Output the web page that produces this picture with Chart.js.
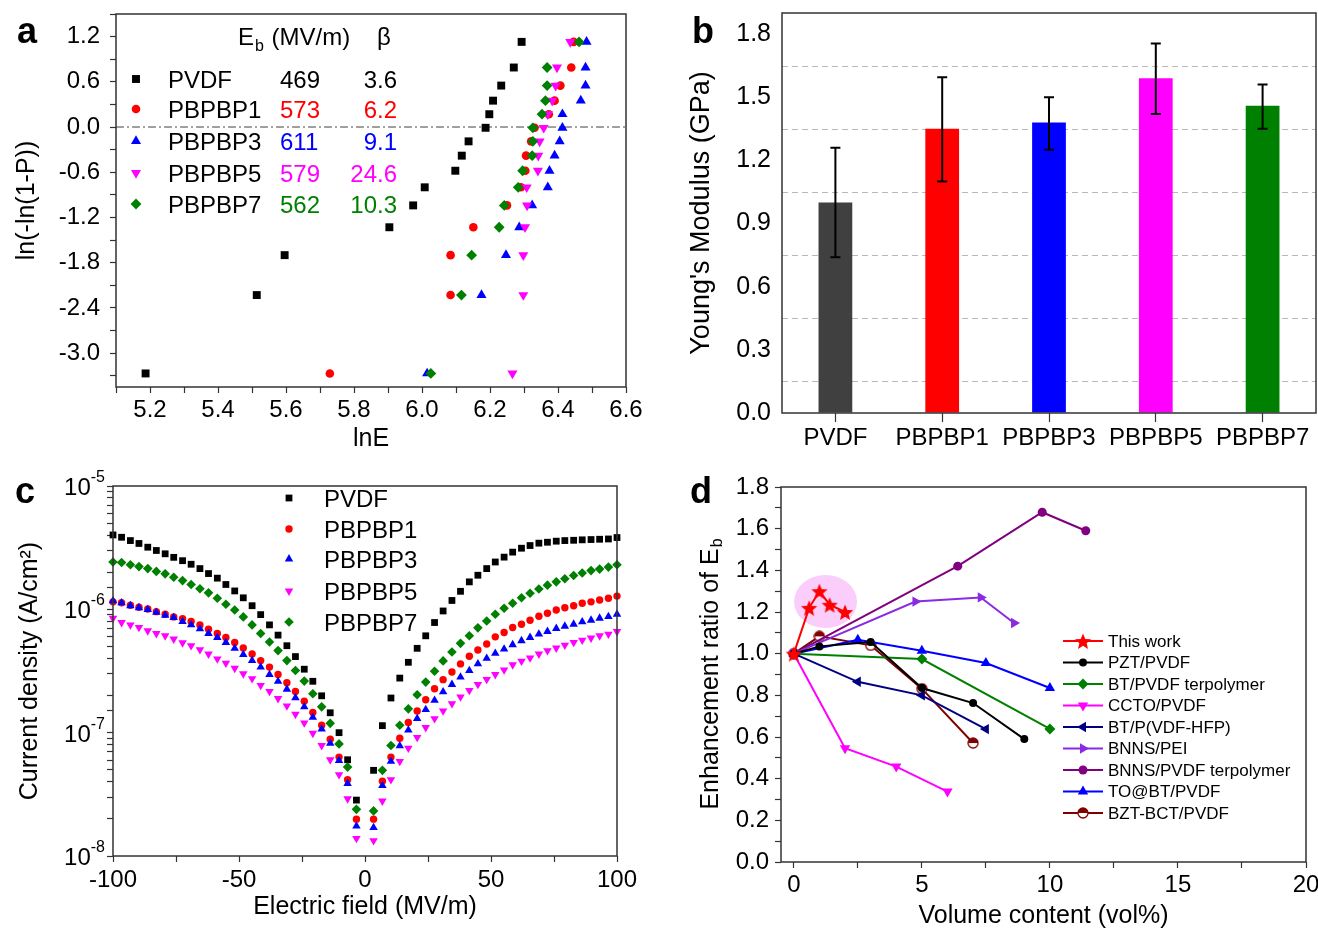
<!DOCTYPE html>
<html>
<head>
<meta charset="utf-8">
<title>PBPBP films: Weibull, modulus, leakage, Eb enhancement</title>
<script src="https://cdn.jsdelivr.net/npm/chart.js@4.4.1/dist/chart.umd.min.js"></script>
<style>
  html, body { margin: 0; padding: 0; background: #fff; }
  #page { position: relative; width: 1318px; height: 929px; overflow: hidden; }
  #page canvas { position: absolute; }
</style>
</head>
<body>
<div id="page">
  <canvas id="weibullChart" width="660" height="465" style="left:0;top:0"></canvas>
  <canvas id="modulusChart" width="658" height="465" style="left:660px;top:0"></canvas>
  <canvas id="leakageChart" width="660" height="464" style="left:0;top:465px"></canvas>
  <canvas id="ratioChart" width="658" height="464" style="left:660px;top:465px"></canvas>
</div>
<script>
// ---------------- data ----------------

// (a) Weibull plot, ln(-ln(1-P)) levels shared by all samples
const weibullLevels = [-3.27, -2.23, -1.70, -1.33, -1.04, -0.80, -0.58, -0.38, -0.19, -0.01, 0.17, 0.35, 0.55, 0.79, 1.13];
const lnE_PVDF   = [5.187, 5.514, 5.596, 5.904, 5.974, 6.008, 6.098, 6.117, 6.137, 6.187, 6.198, 6.209, 6.233, 6.270, 6.293];
const lnE_PBPBP1 = [5.729, 6.084, 6.084, 6.151, 6.250, 6.291, 6.304, 6.306, 6.321, 6.331, 6.373, 6.390, 6.407, 6.439, 6.446];
const lnE_PBPBP3 = [6.015, 6.175, 6.247, 6.286, 6.324, 6.370, 6.375, 6.390, 6.405, 6.413, 6.413, 6.467, 6.481, 6.481, 6.484];
const lnE_PBPBP5 = [6.266, 6.298, 6.298, 6.303, 6.309, 6.308, 6.341, 6.342, 6.346, 6.358, 6.370, 6.383, 6.393, 6.397, 6.436];
const lnE_PBPBP7 = [6.026, 6.116, 6.146, 6.227, 6.242, 6.283, 6.296, 6.324, 6.326, 6.326, 6.353, 6.363, 6.368, 6.368, 6.462];

const sampleNames = ['PVDF', 'PBPBP1', 'PBPBP3', 'PBPBP5', 'PBPBP7'];
const breakdownEb = ['469', '573', '611', '579', '562'];
const weibullBeta = ['3.6', '6.2', '9.1', '24.6', '10.3'];

// (b) Young's modulus (GPa) with error range
const modulusMean = [1.00, 1.35, 1.38, 1.59, 1.46];
const modulusLow  = [0.74, 1.10, 1.25, 1.42, 1.35];
const modulusHigh = [1.26, 1.595, 1.50, 1.755, 1.56];

// (c) leakage current density (A/cm2) vs electric field (MV/m)
const fieldMVm = [-100.0, -96.6, -93.1, -89.7, -86.2, -82.8, -79.3, -75.9, -72.4, -69.0, -65.5, -62.1, -58.6, -55.2, -51.7,
  -48.3, -44.8, -41.4, -37.9, -34.5, -31.0, -27.6, -24.1, -20.7, -17.2, -13.8, -10.3, -6.9, -3.4,
  3.4, 6.9, 10.3, 13.8, 17.2, 20.7, 24.1, 27.6, 31.0, 34.5, 37.9, 41.4, 44.8, 48.3, 51.7,
  55.2, 58.6, 62.1, 65.5, 69.0, 72.4, 75.9, 79.3, 82.8, 86.2, 89.7, 93.1, 96.6, 100.0];
const leak_PVDF = [4.01e-6, 3.84e-6, 3.61e-6, 3.42e-6, 3.19e-6, 3.00e-6, 2.82e-6, 2.64e-6, 2.48e-6, 2.32e-6, 2.14e-6, 1.95e-6, 1.79e-6, 1.59e-6, 1.41e-6,
  1.24e-6, 1.07e-6, 9.06e-7, 7.48e-7, 6.18e-7, 5.07e-7, 4.14e-7, 3.27e-7, 2.61e-7, 1.99e-7, 1.45e-7, 1.00e-7, 6.03e-8, 2.84e-8,
  4.95e-8, 1.14e-7, 1.91e-7, 2.77e-7, 3.72e-7, 4.83e-7, 6.10e-7, 7.82e-7, 9.70e-7, 1.18e-6, 1.40e-6, 1.67e-6, 1.89e-6, 2.14e-6, 2.42e-6,
  2.65e-6, 2.91e-6, 3.13e-6, 3.29e-6, 3.44e-6, 3.50e-6, 3.57e-6, 3.61e-6, 3.63e-6, 3.66e-6, 3.68e-6, 3.70e-6, 3.72e-6, 3.82e-6];
const leak_PBPBP1 = [1.15e-6, 1.13e-6, 1.08e-6, 1.04e-6, 1.006e-6, 9.58e-7, 9.12e-7, 8.68e-7, 8.41e-7, 7.96e-7, 7.48e-7, 6.90e-7, 6.37e-7, 5.91e-7, 5.39e-7,
  4.86e-7, 4.34e-7, 3.84e-7, 3.40e-7, 2.96e-7, 2.54e-7, 2.16e-7, 1.80e-7, 1.46e-7, 1.15e-7, 8.84e-8, 6.34e-8, 4.16e-8, 1.99e-8,
  1.99e-8, 4.04e-8, 6.34e-8, 9.0e-8, 1.21e-7, 1.50e-7, 1.85e-7, 2.27e-7, 2.69e-7, 3.10e-7, 3.61e-7, 4.16e-7, 4.68e-7, 5.23e-7, 5.98e-7,
  6.49e-7, 7.13e-7, 7.57e-7, 8.16e-7, 8.79e-7, 9.29e-7, 9.88e-7, 1.03e-6, 1.07e-6, 1.12e-6, 1.15e-6, 1.19e-6, 1.23e-6, 1.28e-6];
const leak_PBPBP3 = [1.17e-6, 1.13e-6, 1.07e-6, 1.03e-6, 9.94e-7, 9.46e-7, 8.95e-7, 8.57e-7, 7.96e-7, 7.48e-7, 6.95e-7, 6.37e-7, 5.91e-7, 5.39e-7, 4.83e-7,
  4.30e-7, 3.84e-7, 3.40e-7, 2.96e-7, 2.61e-7, 2.25e-7, 1.92e-7, 1.62e-7, 1.33e-7, 1.07e-7, 8.20e-8, 5.95e-8, 3.87e-8, 1.75e-8,
  1.70e-8, 3.72e-8, 5.85e-8, 7.81e-8, 1.05e-7, 1.30e-7, 1.54e-7, 1.83e-7, 2.14e-7, 2.46e-7, 2.82e-7, 3.19e-7, 3.61e-7, 4.01e-7, 4.40e-7,
  4.76e-7, 5.16e-7, 5.56e-7, 5.91e-7, 6.29e-7, 6.61e-7, 7.00e-7, 7.30e-7, 7.57e-7, 7.91e-7, 8.16e-7, 8.47e-7, 8.73e-7, 9.12e-7];
const leak_PBPBP5 = [8.47e-7, 7.82e-7, 7.48e-7, 7.13e-7, 6.70e-7, 6.37e-7, 6.10e-7, 5.74e-7, 5.36e-7, 5.07e-7, 4.71e-7, 4.34e-7, 3.96e-7, 3.66e-7, 3.33e-7,
  3.00e-7, 2.74e-7, 2.42e-7, 2.16e-7, 1.89e-7, 1.65e-7, 1.41e-7, 1.20e-7, 9.88e-8, 7.86e-8, 6.03e-8, 4.57e-8, 2.91e-8, 1.39e-8,
  1.33e-8, 2.79e-8, 4.16e-8, 5.85e-8, 7.48e-8, 9.16e-8, 1.10e-7, 1.30e-7, 1.50e-7, 1.72e-7, 1.95e-7, 2.20e-7, 2.46e-7, 2.70e-7, 2.96e-7,
  3.23e-7, 3.55e-7, 3.80e-7, 4.04e-7, 4.34e-7, 4.63e-7, 4.86e-7, 5.13e-7, 5.39e-7, 5.63e-7, 5.85e-7, 6.10e-7, 6.29e-7, 6.61e-7];
const leak_PBPBP7 = [2.42e-6, 2.40e-6, 2.30e-6, 2.22e-6, 2.14e-6, 2.03e-6, 1.94e-6, 1.82e-6, 1.71e-6, 1.59e-6, 1.47e-6, 1.36e-6, 1.23e-6, 1.10e-6, 9.88e-7,
  8.68e-7, 7.48e-7, 6.37e-7, 5.43e-7, 4.63e-7, 3.84e-7, 3.19e-7, 2.62e-7, 2.07e-7, 1.62e-7, 1.19e-7, 8.11e-8, 5.26e-8, 2.39e-8,
  2.32e-8, 4.95e-8, 7.86e-8, 1.15e-7, 1.56e-7, 2.03e-7, 2.57e-7, 3.15e-7, 3.82e-7, 4.51e-7, 5.30e-7, 6.10e-7, 7.08e-7, 8.05e-7, 9.12e-7,
  1.02e-6, 1.12e-6, 1.24e-6, 1.35e-6, 1.46e-6, 1.57e-6, 1.67e-6, 1.77e-6, 1.88e-6, 1.97e-6, 2.06e-6, 2.12e-6, 2.20e-6, 2.30e-6];
const decadeExponents = [-8, -7, -6, -5];

// (d) enhancement ratio of Eb vs filler volume content (vol%)
const compositeNames = ['This work', 'PZT/PVDF', 'BT/PVDF terpolymer', 'CCTO/PVDF', 'BT/P(VDF-HFP)',
  'BNNS/PEI', 'BNNS/PVDF terpolymer', 'TO@BT/PVDF', 'BZT-BCT/PVDF'];
const thisWorkX = [0, 0.6, 1.0, 1.4, 2.0];    const thisWorkY = [1.0, 1.22, 1.30, 1.235, 1.20];
const pztX = [0, 1, 3, 5, 7, 9];              const pztY = [1.0, 1.035, 1.056, 0.835, 0.763, 0.59];
const btTerX = [0, 5, 10];                    const btTerY = [1.0, 0.974, 0.639];
const cctoX = [0, 2, 4, 6];                   const cctoY = [1.0, 0.546, 0.458, 0.338];
const btHfpX = [0, 2.5, 5, 7.5];              const btHfpY = [1.0, 0.865, 0.80, 0.638];
const bnnsPeiX = [0, 4.75, 7.3, 8.6];         const bnnsPeiY = [1.0, 1.25, 1.27, 1.147];
const bnnsTerX = [0, 6.4, 9.7, 11.4];         const bnnsTerY = [1.0, 1.42, 1.679, 1.59];
const toBtX = [0, 2.5, 5, 7.5, 10];           const toBtY = [1.0, 1.067, 1.014, 0.955, 0.835];
const bztX = [0, 1, 3, 5, 7];                 const bztY = [1.0, 1.083, 1.04, 0.832, 0.571];

// ---------------- styling ----------------
const FONT = "'Liberation Sans', Arial, Helvetica, sans-serif";
Chart.defaults.font.family = FONT;
Chart.defaults.color = '#000';
Chart.defaults.animation = false;
Chart.defaults.plugins.legend.display = false;
Chart.defaults.plugins.tooltip.enabled = false;

const sampleColors = ['#000000', '#ff0000', '#0000ff', '#ff00ff', '#008000'];
const sampleStyles = ['rect', 'circle', 'triangle', 'triangle', 'rectRot'];
const sampleRotation = [0, 0, 0, 180, 0];
const drawPoint = Chart.helpers.drawPoint;

function makeStar(size, color) {
  const c = document.createElement('canvas');
  c.width = c.height = size;
  const g = c.getContext('2d');
  const r = size / 2 - 0.5, ri = r * 0.45, m = size / 2;
  g.beginPath();
  for (let k = 0; k < 10; k++) {
    const a = -Math.PI / 2 + k * Math.PI / 5;
    const rr = k % 2 ? ri : r;
    g.lineTo(m + rr * Math.cos(a), m + 1 + rr * Math.sin(a));
  }
  g.closePath();
  g.fillStyle = color;
  g.fill();
  return c;
}

function makeHalfCircle(size, color) {
  const c = document.createElement('canvas');
  c.width = c.height = size;
  const g = c.getContext('2d');
  const r = size / 2 - 1, m = size / 2;
  g.beginPath(); g.arc(m, m, r, 0, 2 * Math.PI); g.fillStyle = '#fff'; g.fill();
  g.beginPath(); g.arc(m, m, r, Math.PI, 2 * Math.PI); g.closePath(); g.fillStyle = color; g.fill();
  g.beginPath(); g.arc(m, m, r, 0, 2 * Math.PI); g.strokeStyle = color; g.lineWidth = 1.3; g.stroke();
  return c;
}

// full box around the plot area
const boxFrame = {
  id: 'boxFrame',
  afterDraw(chart) {
    const { ctx, chartArea: a } = chart;
    ctx.save();
    ctx.strokeStyle = '#333';
    ctx.lineWidth = 1.5;
    ctx.strokeRect(a.left, a.top, a.right - a.left, a.bottom - a.top);
    ctx.restore();
  }
};

function panelLetter(letter, x, y) {
  return {
    id: 'panelLetter',
    afterDraw(chart) {
      const ctx = chart.ctx;
      ctx.save();
      ctx.font = 'bold 36px ' + FONT;
      ctx.fillStyle = '#000';
      ctx.textAlign = 'left';
      ctx.textBaseline = 'alphabetic';
      ctx.fillText(letter, x, y);
      ctx.restore();
    }
  };
}

// fixed axis sizes, no extra label padding so the plot areas land where they should
function fixX(h) {
  return s => { s.height = h; s.paddingLeft = 0; s.paddingRight = 0; };
}
function fixY(w) {
  return s => { s.width = w; s.paddingTop = 0; s.paddingBottom = 0; };
}

function tickAxis(extra) {
  return Object.assign({
    border: { display: false },
    grid: { drawOnChartArea: false, tickLength: 6, tickColor: '#333', tickWidth: 1.2 }
  }, extra);
}

// ---------------- (a) Weibull ----------------
const weibullLnE = [lnE_PVDF, lnE_PBPBP1, lnE_PBPBP3, lnE_PBPBP5, lnE_PBPBP7];
const weibullRadius = [5.6, 4.3, 5.8, 5.8, 5.4];

const zeroLine = {
  id: 'zeroLine',
  beforeDatasetsDraw(chart) {
    const { ctx, chartArea: a } = chart;
    const y0 = chart.scales.y.getPixelForValue(0);
    ctx.save();
    ctx.strokeStyle = '#444';
    ctx.lineWidth = 1;
    ctx.setLineDash([8, 3, 2, 3]);
    ctx.beginPath();
    ctx.moveTo(a.left, y0);
    ctx.lineTo(a.right, y0);
    ctx.stroke();
    ctx.restore();
  }
};

const weibullLegend = {
  id: 'weibullLegend',
  afterDraw(chart) {
    const ctx = chart.ctx;
    ctx.save();
    ctx.textBaseline = 'alphabetic';
    ctx.textAlign = 'left';
    ctx.fillStyle = '#000';
    ctx.font = '24px ' + FONT;
    ctx.fillText('E', 238, 45);
    const wE = ctx.measureText('E').width;
    ctx.font = '16px ' + FONT;
    ctx.fillText('b', 238 + wE + 1, 51);
    const wb = ctx.measureText('b').width;
    ctx.font = '24px ' + FONT;
    ctx.fillText(' (MV/m)', 238 + wE + wb + 2, 45);
    ctx.fillText('\u03b2', 377, 45);
    const rows = [79, 109, 141, 173, 204];
    sampleNames.forEach((name, i) => {
      const cy = rows[i];
      ctx.fillStyle = sampleColors[i];
      drawPoint(ctx, { pointStyle: sampleStyles[i], rotation: sampleRotation[i], radius: weibullRadius[i], borderWidth: 0 }, 136, cy);
      ctx.font = '24px ' + FONT;
      ctx.textAlign = 'left';
      ctx.fillStyle = '#000';
      ctx.fillText(name, 168, cy + 9);
      ctx.fillStyle = sampleColors[i];
      ctx.fillText(breakdownEb[i], 280, cy + 9);
      ctx.textAlign = 'right';
      ctx.fillText(weibullBeta[i], 397, cy + 9);
    });
    ctx.restore();
  }
};

new Chart(document.getElementById('weibullChart'), {
  type: 'scatter',
  data: {
    datasets: sampleNames.map((name, i) => ({
      label: name,
      data: weibullLnE[i].map((x, k) => ({ x: x, y: weibullLevels[k] })),
      backgroundColor: sampleColors[i],
      borderWidth: 0,
      pointStyle: sampleStyles[i],
      rotation: sampleRotation[i],
      pointRadius: weibullRadius[i],
      order: sampleNames.length - i,
      clip: false
    }))
  },
  options: {
    responsive: false,
    layout: { padding: { top: 14, right: 34, left: 0, bottom: 0 } },
    scales: {
      x: tickAxis({
        type: 'linear', min: 5.1, max: 6.6,
        afterFit: fixX(78),
        ticks: {
          stepSize: 0.1, autoSkip: false, maxRotation: 0, padding: 3, font: { size: 24 },
          callback: v => (Math.round(v * 10) % 2 === 0 ? v.toFixed(1) : '')
        },
        title: { display: true, text: 'lnE', font: { size: 25, lineHeight: 1 }, padding: { top: 0, bottom: 13 } }
      }),
      y: tickAxis({
        type: 'linear', min: -3.45, max: 1.5,
        afterFit: fixY(116),
        ticks: {
          stepSize: 0.3, includeBounds: false, autoSkip: false, padding: 10, font: { size: 24 },
          callback: v => { const k = Math.round(v / 0.3); return k % 2 === 0 ? (k * 0.3).toFixed(1) : ''; }
        },
        title: { display: true, text: 'ln(-ln(1-P))', font: { size: 25, lineHeight: 1 }, padding: { top: 15, bottom: 0 } }
      })
    }
  },
  plugins: [zeroLine, boxFrame, weibullLegend, panelLetter('a', 17, 43)]
});

// ---------------- (b) Young's modulus ----------------
const modulusColors = ['#404040', '#ff0000', '#0000ff', '#ff00ff', '#008000'];

const dashedGrid = {
  id: 'dashedGrid',
  beforeDatasetsDraw(chart) {
    const { ctx, chartArea: a } = chart;
    const y = chart.scales.y;
    ctx.save();
    ctx.strokeStyle = '#b8b8b8';
    ctx.lineWidth = 1.2;
    ctx.setLineDash([6, 4]);
    [0.15, 0.45, 0.75, 1.05, 1.35, 1.65].forEach(v => {
      const py = Math.round(y.getPixelForValue(v)) + 0.5;
      ctx.beginPath();
      ctx.moveTo(a.left, py);
      ctx.lineTo(a.right, py);
      ctx.stroke();
    });
    ctx.restore();
  }
};

const errorBars = {
  id: 'errorBars',
  afterDatasetsDraw(chart) {
    const ctx = chart.ctx;
    const y = chart.scales.y;
    const meta = chart.getDatasetMeta(0);
    ctx.save();
    ctx.strokeStyle = '#000';
    ctx.lineWidth = 2;
    meta.data.forEach((bar, i) => {
      const yl = y.getPixelForValue(modulusLow[i]);
      const yh = y.getPixelForValue(modulusHigh[i]);
      ctx.beginPath();
      ctx.moveTo(bar.x, yl); ctx.lineTo(bar.x, yh);
      ctx.moveTo(bar.x - 5, yl); ctx.lineTo(bar.x + 5, yl);
      ctx.moveTo(bar.x - 5, yh); ctx.lineTo(bar.x + 5, yh);
      ctx.stroke();
    });
    ctx.restore();
  }
};

new Chart(document.getElementById('modulusChart'), {
  type: 'bar',
  data: {
    labels: sampleNames,
    datasets: [{
      data: modulusMean,
      backgroundColor: modulusColors,
      borderWidth: 0,
      barPercentage: 0.316,
      categoryPercentage: 1
    }]
  },
  options: {
    responsive: false,
    layout: { padding: { top: 13, right: 2, left: 0, bottom: 0 } },
    scales: {
      x: {
        afterFit: fixX(52),
        border: { display: false },
        grid: { offset: false, drawOnChartArea: false, tickLength: 9, tickColor: '#333', tickWidth: 1.2 },
        ticks: { autoSkip: false, maxRotation: 0, padding: 2, font: { size: 24 } }
      },
      y: {
        min: 0, max: 1.9,
        afterFit: fixY(122),
        border: { display: false },
        grid: { drawOnChartArea: false, drawTicks: false },
        ticks: {
          stepSize: 0.3, includeBounds: false, autoSkip: false, padding: 11, font: { size: 25 },
          callback: v => v.toFixed(1)
        },
        title: { display: true, text: "Young's Modulus (GPa)", font: { size: 27, lineHeight: 1 }, padding: { top: 28, bottom: 0 } }
      }
    }
  },
  plugins: [dashedGrid, errorBars, boxFrame, panelLetter('b', 32, 43)]
});

// ---------------- (c) leakage current ----------------
const leakSeries = [leak_PVDF, leak_PBPBP1, leak_PBPBP3, leak_PBPBP5, leak_PBPBP7];
const leakRadius = [4.8, 3.7, 4.9, 4.9, 4.8];

const decadeLabels = {
  id: 'decadeLabels',
  afterDraw(chart) {
    const ctx = chart.ctx;
    const y = chart.scales.y;
    const right = chart.chartArea.left - 8;
    ctx.save();
    ctx.fillStyle = '#000';
    ctx.textAlign = 'left';
    ctx.textBaseline = 'alphabetic';
    decadeExponents.forEach(e => {
      const py = y.getPixelForValue(Math.pow(10, e));
      const sup = String(e);
      ctx.font = '16px ' + FONT;
      const ws = ctx.measureText(sup).width;
      ctx.font = '24px ' + FONT;
      const wb = ctx.measureText('10').width;
      ctx.fillText('10', right - ws - wb, py + 9);
      ctx.font = '16px ' + FONT;
      ctx.fillText(sup, right - ws, py - 4);
    });
    ctx.restore();
  }
};

const leakLegend = {
  id: 'leakLegend',
  afterDraw(chart) {
    const ctx = chart.ctx;
    const rows = [33, 64, 94, 126, 157];
    ctx.save();
    ctx.textAlign = 'left';
    ctx.textBaseline = 'alphabetic';
    sampleNames.forEach((name, i) => {
      ctx.fillStyle = sampleColors[i];
      drawPoint(ctx, { pointStyle: sampleStyles[i], rotation: sampleRotation[i], radius: leakRadius[i], borderWidth: 0 }, 289, rows[i]);
      ctx.fillStyle = '#000';
      ctx.font = '24px ' + FONT;
      ctx.fillText(name, 324, rows[i] + 9);
    });
    ctx.restore();
  }
};

new Chart(document.getElementById('leakageChart'), {
  type: 'scatter',
  data: {
    datasets: sampleNames.map((name, i) => ({
      label: name,
      data: leakSeries[i].map((j, k) => ({ x: fieldMVm[k], y: j })),
      backgroundColor: sampleColors[i],
      borderWidth: 0,
      pointStyle: sampleStyles[i],
      rotation: sampleRotation[i],
      pointRadius: leakRadius[i],
      order: sampleNames.length - i,
      clip: false
    }))
  },
  options: {
    responsive: false,
    layout: { padding: { top: 21, right: 43, left: 0, bottom: 0 } },
    scales: {
      x: tickAxis({
        type: 'linear', min: -100, max: 100,
        afterFit: fixX(73),
        ticks: {
          stepSize: 25, autoSkip: false, maxRotation: 0, padding: 4, font: { size: 24 },
          callback: v => (v % 50 === 0 ? String(v) : '')
        },
        title: { display: true, text: 'Electric field (MV/m)', font: { size: 25, lineHeight: 1 }, padding: { top: 0, bottom: 9 } }
      }),
      y: tickAxis({
        type: 'logarithmic', min: 1e-8, max: 1e-5,
        afterFit: fixY(113),
        ticks: { autoSkip: false, callback: () => '' },
        title: { display: true, text: 'Current density (A/cm\u00b2)', font: { size: 25, lineHeight: 1 }, padding: { top: 18, bottom: 0 } }
      })
    }
  },
  plugins: [boxFrame, decadeLabels, leakLegend, panelLetter('c', 15, 38)]
});

// ---------------- (d) Eb enhancement ratio ----------------
const starImg = makeStar(18, '#ff0000');
const halfCircleImg = makeHalfCircle(12, '#800000');
const compositeX = [thisWorkX, pztX, btTerX, cctoX, btHfpX, bnnsPeiX, bnnsTerX, toBtX, bztX];
const compositeY = [thisWorkY, pztY, btTerY, cctoY, btHfpY, bnnsPeiY, bnnsTerY, toBtY, bztY];
const compositeColors = ['#ff0000', '#000000', '#008000', '#ff00ff', '#000080', '#8a2be2', '#800080', '#0000ff', '#800000'];
const compositeStyles = [starImg, 'circle', 'rectRot', 'triangle', 'triangle', 'triangle', 'circle', 'triangle', halfCircleImg];
const compositeRotation = [0, 0, 0, 180, -90, 90, 0, 0, 0];
const compositeRadius = [8, 4, 5.5, 6, 6, 6, 4.5, 6, 5];

const highlight = {
  id: 'highlight',
  beforeDatasetsDraw(chart) {
    const ctx = chart.ctx;
    const cx = chart.scales.x.getPixelForValue(1.24);
    const cy = chart.scales.y.getPixelForValue(1.25);
    ctx.save();
    ctx.fillStyle = 'rgba(245, 150, 245, 0.48)';
    ctx.beginPath();
    ctx.ellipse(cx, cy, 31.5, 26.5, 0, 0, 2 * Math.PI);
    ctx.fill();
    ctx.restore();
  }
};

const ratioTitle = {
  id: 'ratioTitle',
  afterDraw(chart) {
    const { ctx, chartArea: a } = chart;
    ctx.save();
    ctx.translate(51, (a.top + a.bottom) / 2);
    ctx.rotate(-Math.PI / 2);
    ctx.fillStyle = '#000';
    ctx.textBaseline = 'middle';
    ctx.textAlign = 'left';
    ctx.font = '25px ' + FONT;
    const main = 'Enhancement ratio of E';
    const wm = ctx.measureText(main).width;
    ctx.font = '16px ' + FONT;
    const ws = ctx.measureText('b').width;
    const start = -(wm + ws) / 2;
    ctx.font = '25px ' + FONT;
    ctx.fillText(main, start, 0);
    ctx.font = '16px ' + FONT;
    ctx.fillText('b', start + wm + 1, 7);
    ctx.restore();
  }
};

const ratioLegend = {
  id: 'ratioLegend',
  afterDraw(chart) {
    const ctx = chart.ctx;
    ctx.save();
    ctx.textAlign = 'left';
    ctx.textBaseline = 'middle';
    compositeNames.forEach((name, i) => {
      const cy = 176 + i * 21.5;
      ctx.strokeStyle = compositeColors[i];
      ctx.lineWidth = 2;
      ctx.beginPath();
      ctx.moveTo(403, cy);
      ctx.lineTo(443, cy);
      ctx.stroke();
      ctx.fillStyle = compositeColors[i];
      drawPoint(ctx, { pointStyle: compositeStyles[i], rotation: compositeRotation[i], radius: compositeRadius[i], borderWidth: 0 }, 423, cy);
      ctx.fillStyle = '#000';
      ctx.font = '17px ' + FONT;
      ctx.fillText(name, 448, cy + 1);
    });
    ctx.restore();
  }
};

new Chart(document.getElementById('ratioChart'), {
  type: 'scatter',
  data: {
    datasets: compositeNames.map((name, i) => ({
      label: name,
      data: compositeX[i].map((x, k) => ({ x: x, y: compositeY[i][k] })),
      showLine: true,
      borderColor: compositeColors[i],
      borderWidth: 2,
      backgroundColor: compositeColors[i],
      pointBorderWidth: 0,
      pointStyle: compositeStyles[i],
      rotation: compositeRotation[i],
      pointRadius: compositeRadius[i],
      clip: false
    }))
  },
  options: {
    responsive: false,
    layout: { padding: { top: 22, right: 12, left: 0, bottom: 0 } },
    scales: {
      x: tickAxis({
        type: 'linear', min: -0.5, max: 20,
        afterFit: fixX(67),
        ticks: {
          stepSize: 2.5, includeBounds: false, autoSkip: false, maxRotation: 0, padding: 3, font: { size: 24 },
          callback: v => (Math.abs(v % 5) < 1e-9 ? String(v) : '')
        },
        title: { display: true, text: 'Volume content (vol%)', font: { size: 25, lineHeight: 1 }, padding: { top: 0, bottom: 0 } }
      }),
      y: tickAxis({
        type: 'linear', min: 0, max: 1.8,
        afterFit: fixY(121),
        ticks: {
          stepSize: 0.1, autoSkip: false, padding: 6, font: { size: 24 },
          callback: v => (Math.round(v * 10) % 2 === 0 ? v.toFixed(1) : '')
        }
      })
    }
  },
  plugins: [highlight, boxFrame, ratioTitle, ratioLegend, panelLetter('d', 30, 38)]
});
</script>
</body>
</html>
